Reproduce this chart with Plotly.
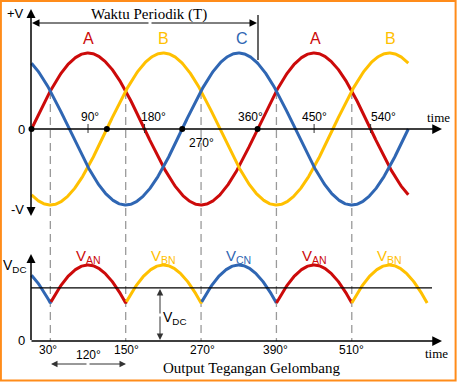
import numpy as np
import plotly.graph_objects as go

# ---- data ----
phase_names = ["A", "B", "C"]
phase_shift_deg = [0, 120, 240]          # A, B, C lag
phase_colors = ["#cc0a0a", "#ffc000", "#2f66b3"]
amplitude = 1.0
top_start_deg, top_end_deg = 0, 600
bottom_start_deg, bottom_end_deg = 0, 630
vdc_level = 0.70
dash_degs = [30, 150, 270, 390, 510]
dash_top_value = 0.5
zero_dot_degs = [0, 120, 240, 360]
tick_mark_degs = [90, 180, 450, 540]
top_tick_labels = ["90°", "180°", "270°", "360°", "450°", "540°"]
bottom_tick_labels = ["30°", "150°", "270°", "390°", "510°"]
phase_letter_labels = ["A", "B", "C", "A", "B"]
output_labels = ["AN", "BN", "CN", "AN", "BN"]

# ---- pixel mapping (layout only) ----
W, H = 457, 382
X0PX, PXDEG = 31.5, 0.628
Y0PX, PXV = 129, 76
BOT0PX = 341
OFF = (BOT0PX - Y0PX) / PXV

def px2x(p):
    return (p - X0PX) / PXDEG

def px2y(p):
    return (Y0PX - p) / PXV

fig = go.Figure()

# dashed guide lines
for d in dash_degs:
    fig.add_trace(go.Scatter(x=[d, d], y=[dash_top_value, -OFF], mode="lines",
                             line=dict(color="#9a9a9a", width=1.3, dash="8px,5px"),
                             hoverinfo="skip", showlegend=False))

# top sine waves
deg = np.arange(top_start_deg, top_end_deg + 0.5, 1.0)
for name, sh, col in zip(phase_names, phase_shift_deg, phase_colors):
    v = amplitude * np.sin(np.radians(deg - sh))
    fig.add_trace(go.Scatter(x=deg, y=v, mode="lines", line=dict(color=col, width=3),
                             hoverinfo="skip", showlegend=False))

# bottom envelope (max of phases), coloured by dominant phase
degb = np.arange(bottom_start_deg, bottom_end_deg + 0.5, 1.0)
vals = np.array([amplitude * np.sin(np.radians(degb - sh)) for sh in phase_shift_deg])
env = vals.max(axis=0)
idx = vals.argmax(axis=0)
start = 0
for i in range(1, len(degb) + 1):
    if i == len(degb) or idx[i] != idx[start]:
        j = min(i, len(degb) - 1)
        seg_x = degb[start:j + 1]
        seg_y = env[start:j + 1] - OFF
        fig.add_trace(go.Scatter(x=seg_x, y=seg_y, mode="lines",
                                 line=dict(color=phase_colors[idx[start]], width=3),
                                 hoverinfo="skip", showlegend=False))
        start = i

# zero crossing dots
fig.add_trace(go.Scatter(x=zero_dot_degs, y=[0] * len(zero_dot_degs), mode="markers",
                         marker=dict(color="black", size=6), hoverinfo="skip", showlegend=False))

shapes = []
# tick marks
for d in tick_mark_degs:
    shapes.append(dict(type="line", x0=d, x1=d, y0=px2y(Y0PX - 5), y1=px2y(Y0PX + 4),
                       line=dict(color="#333", width=1)))
# VDC level line
shapes.append(dict(type="line", x0=px2x(31), x1=px2x(432), y0=vdc_level - OFF, y1=vdc_level - OFF,
                   line=dict(color="black", width=1.2)))
# period vertical marker
shapes.append(dict(type="line", x0=px2x(258), x1=px2x(258), y0=px2y(15), y1=px2y(60),
                   line=dict(color="black", width=1.2)))
# border
shapes.append(dict(type="rect", xref="paper", yref="paper", x0=0.9 / W, x1=455.6 / W,
                   y0=1 - 380.6 / H, y1=1 - 0.9 / H, line=dict(color="#ff8c1a", width=2)))

ann = []

def arrow(x_tip, y_tip, x_tail, y_tail, head=2, size=1.0, width=1.5, color="black"):
    ann.append(dict(x=px2x(x_tip), y=px2y(y_tip), ax=px2x(x_tail), ay=px2y(y_tail),
                    xref="x", yref="y", axref="x", ayref="y", text="", showarrow=True,
                    arrowhead=head, arrowsize=size, arrowwidth=width, arrowcolor=color))

# axes
arrow(31, 9, 31, 129, size=1.2, width=1.5)
arrow(31, 216, 31, 129, size=1.2, width=1.5)
arrow(442, 129, 30, 129, size=1.3, width=1.5)
arrow(31, 254, 31, 341.5, size=1.2, width=1.5)
arrow(442, 341, 30, 341, size=1.3, width=1.5)
# period arrow
arrow(32, 23, 150, 23, size=1.5, width=1.0)
arrow(257, 23, 150, 23, size=1.5, width=1.0)
# VDC arrow
arrow(160, 289, 160, 315, size=1.3, width=1.0, color="#333")
arrow(160, 340, 160, 315, size=1.3, width=1.0, color="#333")
# 120 arrow
arrow(51, 364, 88, 364, size=1.3, width=1.0, color="#333")
arrow(126, 364, 88, 364, size=1.3, width=1.0, color="#333")

SANS = "Liberation Sans, Arial, sans-serif"
SERIF = "Liberation Serif, Times New Roman, serif"

def text(t, xp, yp, size=12, color="black", family=SANS, xanchor="center"):
    ann.append(dict(x=px2x(xp), y=px2y(yp), xref="x", yref="y", text=t, showarrow=False,
                    font=dict(family=family, size=size, color=color), xanchor=xanchor,
                    yanchor="middle"))

text("+V", 15, 13, 13)
text("0", 21, 129, 13)
text("-V", 17, 209, 13)
text("Waktu Periodik (T)", 149, 14, 15, family=SERIF)
text("time", 438, 117, 13, family=SERIF)
text("time", 436, 353, 13, family=SERIF)

letter_x = [88, 163, 242, 315, 390]
letter_col = [phase_colors[0], phase_colors[1], phase_colors[2], phase_colors[0], phase_colors[1]]
for t, xp, c in zip(phase_letter_labels, letter_x, letter_col):
    text(t, xp, 38, 16, color=c)

top_lab_pos = [(90, 117), (153, 117), (201, 143), (250, 117), (314, 117), (383, 117)]
for t, (xp, yp) in zip(top_tick_labels, top_lab_pos):
    text(t, xp, yp, 12)

bot_lab_x = [48, 126, 202, 275, 351]
for t, xp in zip(bottom_tick_labels, bot_lab_x):
    text(t, xp, 350, 12)

out_x = [88, 163, 238, 314, 389]
for t, xp, c in zip(output_labels, out_x, letter_col):
    text("V<sub>" + t + "</sub>", xp, 256, 15, color=c)

text("V<sub>DC</sub>", 15, 266, 14)
text("0", 21, 340, 13)
text("V<sub>DC</sub>", 175, 318, 14)
text("120°", 88, 355, 12)
text("Output Tegangan Gelombang", 251, 368, 15, family=SERIF)

fig.update_layout(
    width=W, height=H, margin=dict(l=0, r=0, t=0, b=0),
    paper_bgcolor="white", plot_bgcolor="white",
    xaxis=dict(range=[px2x(0), px2x(W)], visible=False, fixedrange=True),
    yaxis=dict(range=[px2y(H), px2y(0)], visible=False, fixedrange=True),
    shapes=shapes, annotations=ann, showlegend=False,
)
fig.write_html("out.html", config={"displayModeBar": False},
               post_script="document.body.style.margin='0';document.body.style.overflow='hidden';")
